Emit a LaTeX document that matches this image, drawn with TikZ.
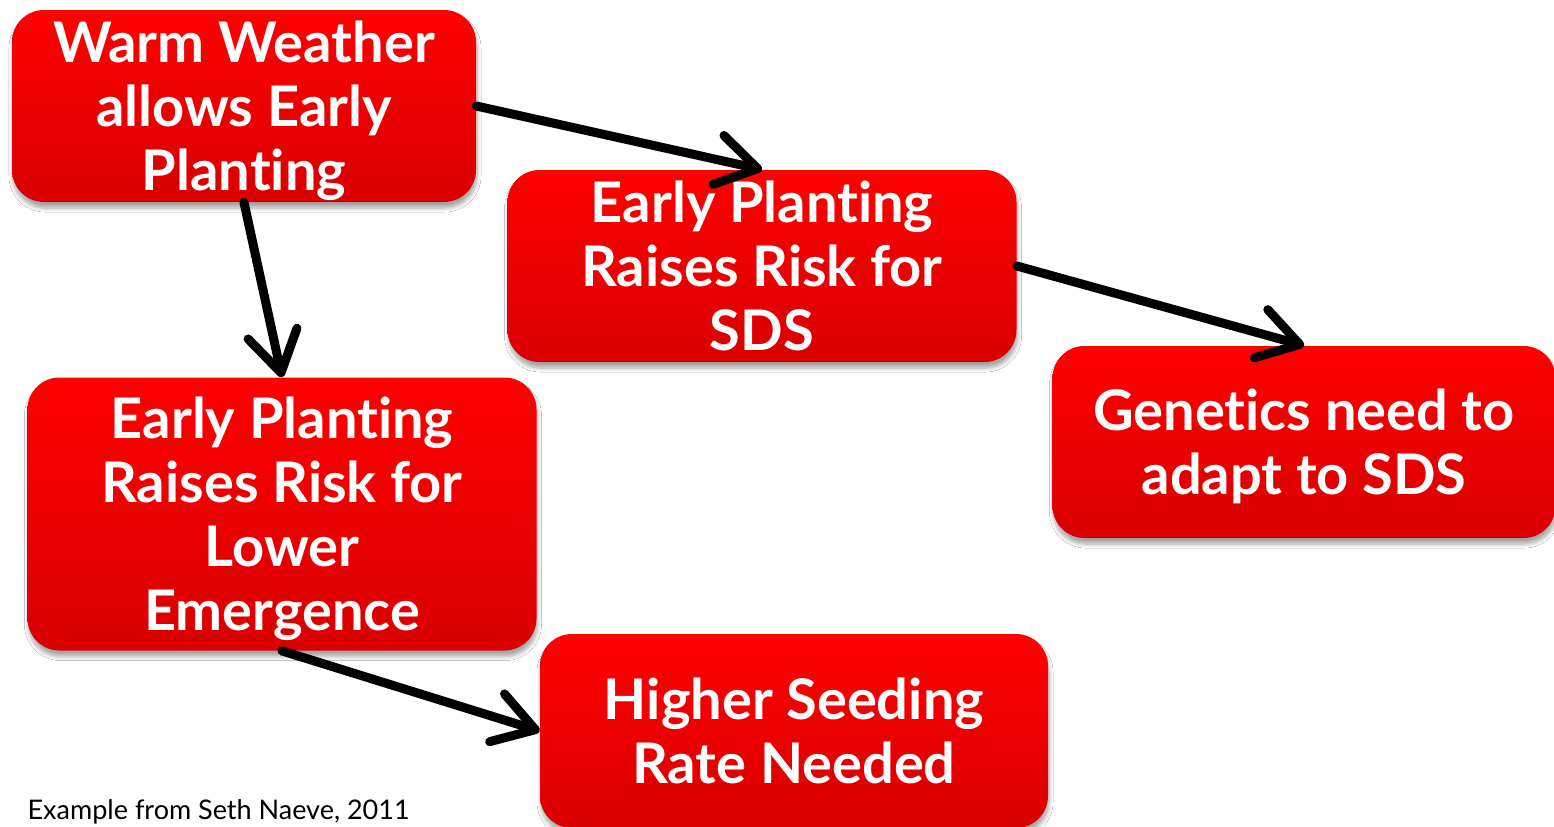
\documentclass[tikz,border=0pt]{standalone}
\usepackage{fontspec}
\setmainfont{Lato}[Ligatures=NoCommon]
\usetikzlibrary{arrows.meta,shadows.blur}

\definecolor{boxtop}{RGB}{255,0,0}
\definecolor{boxbottom}{RGB}{216,0,0}

\tikzset{
  cause/.style={rounded corners=16pt, top color=boxtop, bottom color=boxbottom,
    draw=none, text=white, align=center, inner sep=0pt, text depth=0pt,
    font=\bfseries\fontsize{28}{32}\selectfont,
    blur shadow={shadow xshift=0.5pt, shadow yshift=-3pt, shadow blur radius=2pt,
      shadow blur steps=6, shadow opacity=35}},
  link/.style={line width=4.5pt, line cap=round,
    -{Straight Barb[length=20pt, width=25pt, round, line width=0pt 1]}},
}

\begin{document}
\begin{tikzpicture}[x=0.5pt,y=-0.5pt]
\path[use as bounding box, fill=white] (0,0) rectangle (1554,826);

% boxes
\node[cause, minimum width=232pt, minimum height=96pt] (warm) at (244,106)
  {Warm Weather\\allows Early\\Planting};
\node[cause, minimum width=254.5pt, minimum height=96pt] (sds) at (762,266)
  {Early Planting\\Raises Risk for\\SDS};
\node[cause, minimum width=251.5pt, minimum height=96pt] (genetics) at (1304,442)
  {Genetics need to\\adapt to SDS};
\node[cause, minimum width=254.5pt, minimum height=136.5pt] (emerge) at (282,514)
  {Early Planting\\Raises Risk for\\Lower\\Emergence};
\node[cause, minimum width=254pt, minimum height=97pt] (seeding) at (794,731)
  {Higher Seeding\\Rate Needed};

% arrows
\draw[link] (warm.east) -- (sds.north);
\draw[link] (warm.south) -- (emerge.north);
\draw[link] (sds.east) -- (genetics.north);
\draw[link] (emerge.south) -- (seeding.west);

% source
\node[anchor=base east, inner sep=0pt, font=\fontsize{13.5}{16}\selectfont] (source) at (410,819)
  {Example from Seth Naeve, 2011};
\end{tikzpicture}
\end{document}
